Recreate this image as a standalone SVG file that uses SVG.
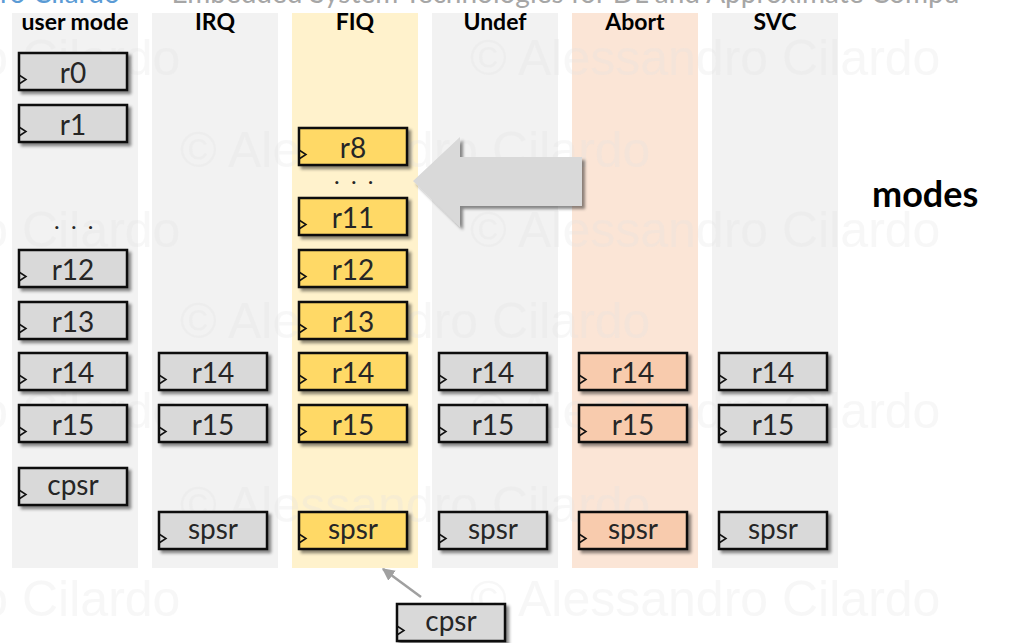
<svg xmlns="http://www.w3.org/2000/svg" width="1009" height="643" viewBox="0 0 1009 643">
<style>
.col{fill:#f2f2f2}
.colF{fill:#fff2cc}
.colA{fill:#fbe5d6}
.title{font-family:Lato,"Liberation Sans",sans-serif;font-weight:bold;font-size:23px;fill:#000;text-anchor:middle}
.reg rect{stroke:#111;stroke-width:2.5;filter:url(#sh)}
.g rect{fill:#d9d9d9}
.y rect{fill:#ffd966}
.p rect{fill:#f8cbad}
.reg polyline{fill:none;stroke:#111;stroke-width:1.5}
.reg text{font-family:Lato,"Liberation Sans",sans-serif;font-size:28px;fill:#262626;text-anchor:middle}
.dots{font-family:Lato,"Liberation Sans",sans-serif;font-size:24px;fill:#262626;text-anchor:middle;letter-spacing:2.5px}
.wm{font-family:"Liberation Sans",Arial,sans-serif;font-size:50px;fill:#e2e2e2;fill-opacity:0.28}
.hdr{font-family:Lato,"Liberation Sans",sans-serif;font-size:28px}
</style>
<defs>
<filter id="sh" x="-10%" y="-20%" width="130%" height="160%">
<feDropShadow dx="3" dy="3" stdDeviation="1.5" flood-color="#000" flood-opacity="0.45"/>
</filter>
<marker id="ah" viewBox="0 0 10 10" refX="9" refY="5" markerWidth="5" markerHeight="5" orient="auto">
<path d="M0,0 L10,5 L0,10 Z" fill="#a0a0a0"/>
</marker>
</defs>
<rect width="1009" height="643" fill="#fff"/>
<g id="header">
<text class="hdr" x="0" y="3" fill="#5b9bd5">ro Cilardo</text>
<text class="hdr" x="148" y="3" fill="#a6a6a6">– Embedded System Technologies for DL and Approximate Compu</text>
</g>
<g id="columns">
<rect class="col" x="12" y="13" width="126" height="555"/>
<rect class="col" x="152" y="13" width="126" height="555"/>
<rect class="colF" x="292" y="13" width="126" height="555"/>
<rect class="col" x="432" y="13" width="126" height="555"/>
<rect class="colA" x="572" y="13" width="126" height="555"/>
<rect class="col" x="712" y="13" width="126" height="555"/>
</g>
<g id="watermarks">
<text class="wm" x="-290" y="75">© Alessandro Cilardo</text>
<text class="wm" x="470" y="75">© Alessandro Cilardo</text>
<text class="wm" x="180" y="167">© Alessandro Cilardo</text>
<text class="wm" x="-290" y="247">© Alessandro Cilardo</text>
<text class="wm" x="470" y="247">© Alessandro Cilardo</text>
<text class="wm" x="180" y="338">© Alessandro Cilardo</text>
<text class="wm" x="-290" y="428">© Alessandro Cilardo</text>
<text class="wm" x="470" y="428">© Alessandro Cilardo</text>
<text class="wm" x="180" y="522">© Alessandro Cilardo</text>
<text class="wm" x="-290" y="616">© Alessandro Cilardo</text>
<text class="wm" x="470" y="616">© Alessandro Cilardo</text>
</g>
<g id="titles">
<text class="title" x="75" y="30">user mode</text>
<text class="title" x="215" y="30">IRQ</text>
<text class="title" x="355" y="30">FIQ</text>
<text class="title" x="495" y="30">Undef</text>
<text class="title" x="635" y="30">Abort</text>
<text class="title" x="775" y="30">SVC</text>
</g>
<g id="connectors">
<path d="M413,181 L460,137 L460,157 L582,157 L582,206 L460,206 L460,227 Z" fill="#d9d9d9" filter="url(#sh)"/>
<line x1="421" y1="597" x2="383" y2="569" stroke="#a0a0a0" stroke-width="2.5" marker-end="url(#ah)"/>
</g>
<g id="user-mode">
<g id="user-r0" class="reg g"><rect x="19" y="53" width="108" height="37"/><polyline points="19,75 26,79.5 19,84"/><text x="73" y="83">r0</text></g>
<g id="user-r1" class="reg g"><rect x="19" y="105" width="108" height="37"/><polyline points="19,127 26,131.5 19,136"/><text x="73" y="135">r1</text></g>
<text id="user-dots" class="dots" x="75" y="229">. . .</text>
<g id="user-r12" class="reg g"><rect x="19" y="250" width="108" height="37"/><polyline points="19,272 26,276.5 19,281"/><text x="73" y="280">r12</text></g>
<g id="user-r13" class="reg g"><rect x="19" y="302" width="108" height="37"/><polyline points="19,324 26,328.5 19,333"/><text x="73" y="332">r13</text></g>
<g id="user-r14" class="reg g"><rect x="19" y="353" width="108" height="37"/><polyline points="19,375 26,379.5 19,384"/><text x="73" y="383">r14</text></g>
<g id="user-r15" class="reg g"><rect x="19" y="405" width="108" height="37"/><polyline points="19,427 26,431.5 19,436"/><text x="73" y="435">r15</text></g>
<g id="user-cpsr" class="reg g"><rect x="19" y="468" width="108" height="37"/><polyline points="19,490 26,494.5 19,499"/><text x="73" y="495">cpsr</text></g>
</g>
<g id="irq">
<g id="irq-r14" class="reg g"><rect x="159" y="353" width="108" height="37"/><polyline points="159,375 166,379.5 159,384"/><text x="213" y="383">r14</text></g>
<g id="irq-r15" class="reg g"><rect x="159" y="405" width="108" height="37"/><polyline points="159,427 166,431.5 159,436"/><text x="213" y="435">r15</text></g>
<g id="irq-spsr" class="reg g"><rect x="159" y="512" width="108" height="37"/><polyline points="159,534 166,538.5 159,543"/><text x="213" y="539">spsr</text></g>
</g>
<g id="fiq">
<g id="fiq-r8" class="reg y"><rect x="299" y="128" width="108" height="37"/><polyline points="299,150 306,154.5 299,159"/><text x="353" y="158">r8</text></g>
<text id="fiq-dots" class="dots" x="355" y="184">. . .</text>
<g id="fiq-r11" class="reg y"><rect x="299" y="198" width="108" height="37"/><polyline points="299,220 306,224.5 299,229"/><text x="353" y="228">r11</text></g>
<g id="fiq-r12" class="reg y"><rect x="299" y="250" width="108" height="37"/><polyline points="299,272 306,276.5 299,281"/><text x="353" y="280">r12</text></g>
<g id="fiq-r13" class="reg y"><rect x="299" y="302" width="108" height="37"/><polyline points="299,324 306,328.5 299,333"/><text x="353" y="332">r13</text></g>
<g id="fiq-r14" class="reg y"><rect x="299" y="353" width="108" height="37"/><polyline points="299,375 306,379.5 299,384"/><text x="353" y="383">r14</text></g>
<g id="fiq-r15" class="reg y"><rect x="299" y="405" width="108" height="37"/><polyline points="299,427 306,431.5 299,436"/><text x="353" y="435">r15</text></g>
<g id="fiq-spsr" class="reg y"><rect x="299" y="512" width="108" height="37"/><polyline points="299,534 306,538.5 299,543"/><text x="353" y="539">spsr</text></g>
</g>
<g id="undef">
<g id="undef-r14" class="reg g"><rect x="439" y="353" width="108" height="37"/><polyline points="439,375 446,379.5 439,384"/><text x="493" y="383">r14</text></g>
<g id="undef-r15" class="reg g"><rect x="439" y="405" width="108" height="37"/><polyline points="439,427 446,431.5 439,436"/><text x="493" y="435">r15</text></g>
<g id="undef-spsr" class="reg g"><rect x="439" y="512" width="108" height="37"/><polyline points="439,534 446,538.5 439,543"/><text x="493" y="539">spsr</text></g>
</g>
<g id="abort">
<g id="abort-r14" class="reg p"><rect x="579" y="353" width="108" height="37"/><polyline points="579,375 586,379.5 579,384"/><text x="633" y="383">r14</text></g>
<g id="abort-r15" class="reg p"><rect x="579" y="405" width="108" height="37"/><polyline points="579,427 586,431.5 579,436"/><text x="633" y="435">r15</text></g>
<g id="abort-spsr" class="reg p"><rect x="579" y="512" width="108" height="37"/><polyline points="579,534 586,538.5 579,543"/><text x="633" y="539">spsr</text></g>
</g>
<g id="svc">
<g id="svc-r14" class="reg g"><rect x="719" y="353" width="108" height="37"/><polyline points="719,375 726,379.5 719,384"/><text x="773" y="383">r14</text></g>
<g id="svc-r15" class="reg g"><rect x="719" y="405" width="108" height="37"/><polyline points="719,427 726,431.5 719,436"/><text x="773" y="435">r15</text></g>
<g id="svc-spsr" class="reg g"><rect x="719" y="512" width="108" height="37"/><polyline points="719,534 726,538.5 719,543"/><text x="773" y="539">spsr</text></g>
</g>
<g id="cpsr-bottom" class="reg g"><rect x="397" y="604" width="108" height="37"/><polyline points="397,626 404,630.5 397,635"/><text x="451" y="631">cpsr</text></g>
<g id="modes-label"><text x="872" y="207" font-family="Lato, 'Liberation Sans', sans-serif" font-weight="bold" font-size="36" fill="#000">modes</text></g>
</svg>
